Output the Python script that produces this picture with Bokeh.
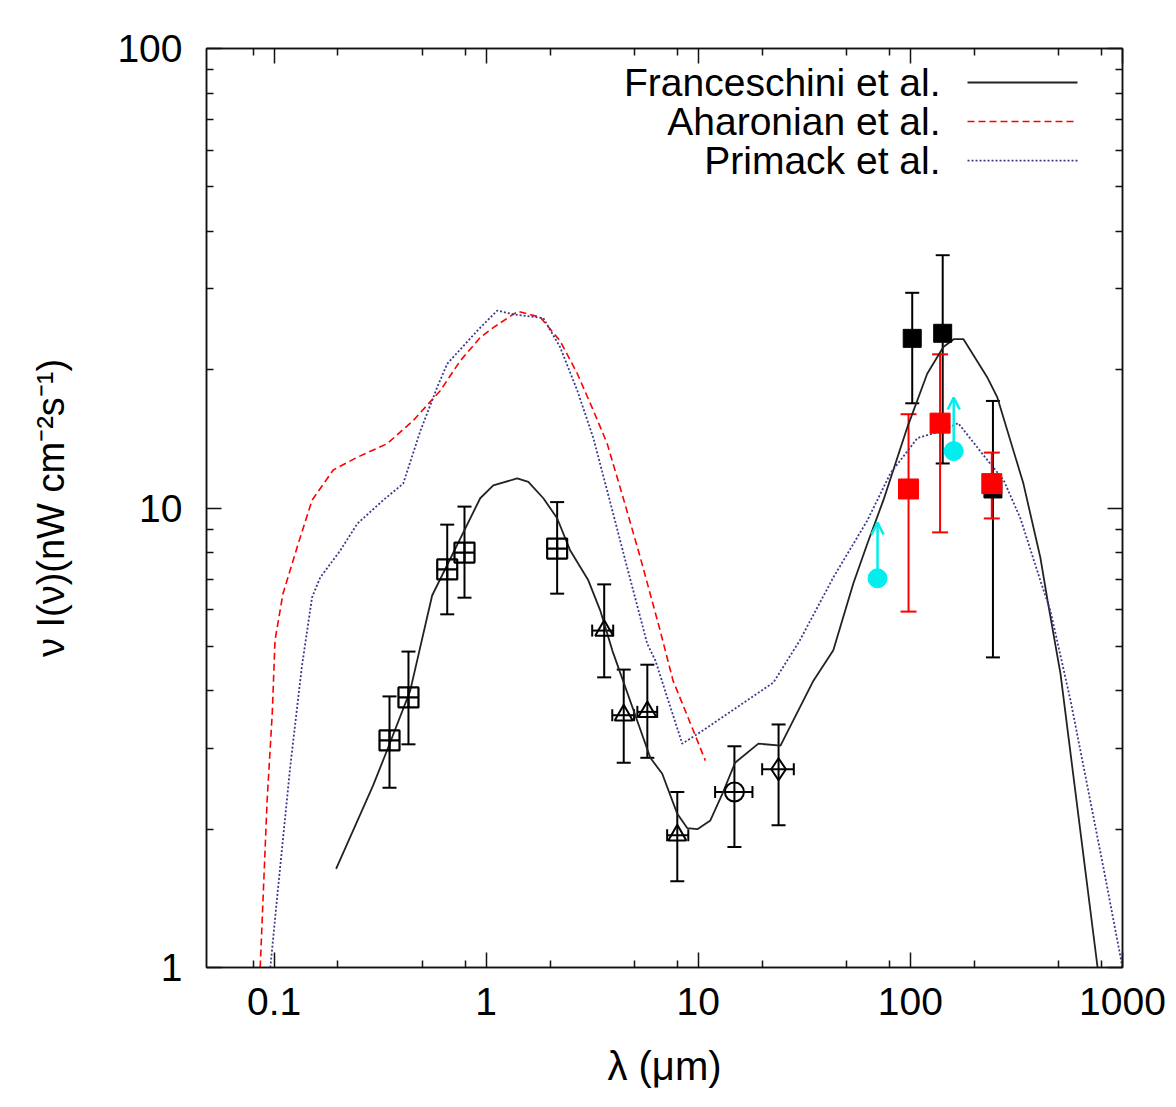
import math
from bokeh.plotting import figure
from bokeh.models import (Range1d, FixedTicker, LogAxis, CustomJSTickFormatter, Whisker,
                          TeeHead, ColumnDataSource, Arrow, OpenHead, Label)
from bokeh.embed import file_html
from bokeh.resources import INLINE

# ---------------- data ----------------
fran_lam = [0.196, 0.293, 0.341, 0.438, 0.556, 0.937, 1.08, 1.40, 1.58, 1.86, 2.16, 2.49, 3.03,
            3.45, 3.93, 5.94, 6.76, 7.96, 8.88, 9.9, 11.4, 13.0, 14.9, 19.2, 24.4, 34.9, 43.3,
            53.8, 62.7, 74.6, 96.8, 120, 143, 160, 178, 231, 257, 341, 410, 443, 510, 763]
fran_val = [1.64, 2.49, 2.97, 4.0, 6.45, 10.5, 11.2, 11.6, 11.4, 10.5, 9.5, 8.08, 6.96,
            5.98, 4.9, 2.86, 2.64, 2.16, 2.01, 2.0, 2.09, 2.39, 2.79, 3.07, 3.04, 4.21, 4.9,
            6.85, 8.37, 10.4, 15.0, 19.6, 22.4, 23.3, 23.3, 19.2, 17.4, 11.3, 7.8, 6.3, 4.36, 1.0]

ahar_lam = [0.086, 0.0927, 0.098, 0.101, 0.110, 0.130, 0.151, 0.19, 0.247, 0.341, 0.453, 0.607,
            0.754, 0.937, 1.08, 1.41, 1.8, 2.23, 2.69, 3.2, 3.72, 4.43, 5.33, 6.61, 7.6, 9.47, 10.8]
ahar_val = [1.0, 2.31, 3.57, 5.15, 6.5, 8.37, 10.4, 12.1, 12.9, 13.8, 15.5, 18.0,
            20.9, 23.5, 24.7, 26.8, 26.0, 23.1, 19.6, 16.3, 13.8, 10.5, 7.8, 5.41, 4.21, 3.28, 2.82]

prim_lam = [0.096, 0.103, 0.119, 0.135, 0.151, 0.165, 0.205, 0.247, 0.327, 0.406, 0.489, 0.587,
            0.655, 0.907, 1.127, 1.34, 1.86, 2.23, 2.69, 3.2, 3.72, 4.62, 5.74, 6.27, 8.4, 10.2,
            22.6, 30.1, 43.3, 62.7, 80.5, 108, 139, 168, 231, 275, 330, 410, 457, 569, 813, 1000]
prim_val = [1.0, 1.4, 2.72, 4.5, 6.39, 7.06, 8.08, 9.25, 10.4, 11.3, 14.7, 18.3,
            20.6, 24.3, 26.9, 26.4, 25.9, 22.4, 18.0, 14.2, 10.9, 7.42, 5.07, 4.66, 3.07, 3.25,
            4.17, 5.15, 7.06, 9.4, 11.9, 14.2, 14.7, 15.3, 12.7, 11.5, 9.5, 6.95, 5.98, 3.81, 1.65, 1.0]

osq_lam = [0.35, 0.43, 0.655, 0.79, 2.16]
osq_val = [3.12, 3.87, 7.35, 8.0, 8.16]
osq_hi = [3.89, 4.87, 9.2, 10.07, 10.3]
osq_lo = [2.46, 3.06, 5.87, 6.38, 6.51]

tri_lam = [3.6, 4.45, 5.75, 7.96]
tri_val = [5.41, 3.54, 3.6, 1.94]
tri_hi = [6.82, 4.45, 4.56, 2.41]
tri_lo = [4.28, 2.79, 2.86, 1.54]
tri_xlo = [3.16, 3.93, 5.16, 7.13]
tri_xhi = [3.97, 4.98, 6.4, 8.97]

circ_lam = [14.8]
circ_val = [2.41]
circ_hi = [3.03]
circ_lo = [1.83]
circ_xlo = [12.0]
circ_xhi = [18.0]

dia_lam = [23.9]
dia_val = [2.7]
dia_hi = [3.38]
dia_lo = [2.04]
dia_xlo = [20.0]
dia_xhi = [28.2]

bsq_lam = [102, 142, 245]
bsq_val = [23.4, 24.0, 11.0]
bsq_hi = [29.4, 35.5, 17.1]
bsq_lo = [16.9, 12.5, 4.73]

rsq_lam = [98, 138, 242]
rsq_val = [11.0, 15.3, 11.3]
rsq_hi = [16.0, 21.6, 13.2]
rsq_lo = [5.95, 8.85, 9.49]

cyan_lam = [70, 160]
cyan_val = [7.03, 13.3]
cyan_tip = [9.3, 17.4]

legend_names = ["Franceschini et al.", "Aharonian et al.", "Primack et al."]

x_ticks = [0.1, 1, 10, 100, 1000]
x_tick_labels = ["0.1", "1", "10", "100", "1000"]
x_minor = [0.08, 0.2, 0.5, 0.8, 2, 5, 8, 20, 50, 80, 200, 500, 800]
y_ticks = [1, 10, 100]
y_tick_labels = ["1", "10", "100"]
y_minor = [2, 3, 4, 5, 6, 7, 8, 9, 20, 30, 40, 50, 60, 70, 80, 90]

X0, X1 = 0.048, 1000
Y0, Y1 = 1, 100

# ---------------- style ----------------
FONT = "Liberation Sans"
FS = "39px"
RED = "#ff0000"
NAVY = "#3a3a8c"
CYAN = "#00eeee"
BLK = "#111111"
W, H = 1168, 1107

p = figure(width=W, height=H, x_axis_type="log", y_axis_type="log",
           x_range=Range1d(X0, X1), y_range=Range1d(Y0, Y1),
           output_backend="svg", toolbar_location=None,
           min_border_left=206, min_border_top=48, min_border_right=46, min_border_bottom=140)
p.grid.visible = False
p.outline_line_color = BLK
p.outline_line_width = 1.5
p.background_fill_color = "white"
p.border_fill_color = "white"

bx = p.below[0]
ly = p.left[0]


def fmt(tv, lv):
    return CustomJSTickFormatter(args=dict(tv=tv, lv=lv), code="""
        for (let i = 0; i < tv.length; i++) {
            if (Math.abs(Math.log10(tv[i]) - Math.log10(tick)) < 1e-6) return lv[i];
        }
        return '';
    """)


xt = FixedTicker(ticks=x_ticks, minor_ticks=x_minor)
yt = FixedTicker(ticks=y_ticks, minor_ticks=y_minor)

bx.ticker = xt
ly.ticker = yt
bx.formatter = fmt(x_ticks, x_tick_labels)
ly.formatter = fmt(y_ticks, y_tick_labels)

top = LogAxis(ticker=xt, formatter=CustomJSTickFormatter(code="return ''"))
right = LogAxis(ticker=yt, formatter=CustomJSTickFormatter(code="return ''"))
p.add_layout(top, "above")
p.add_layout(right, "right")

for ax in [bx, ly, top, right]:
    ax.axis_line_color = BLK
    ax.axis_line_width = 1.5
    ax.major_tick_line_color = BLK
    ax.minor_tick_line_color = BLK
    ax.major_tick_line_width = 1.5
    ax.minor_tick_line_width = 1.5
    ax.major_tick_in = 15
    ax.major_tick_out = 0
    ax.minor_tick_in = 7
    ax.minor_tick_out = 0
    ax.major_label_text_font = FONT
    ax.major_label_text_font_size = FS
    ax.major_label_text_color = "black"
    ax.major_label_text_font_style = "normal"

for ax in [top, right]:
    ax.major_label_text_font_size = "0px"
    ax.major_label_standoff = 0

bx.major_label_standoff = 20
ly.major_label_standoff = 24
bx.axis_label = "λ (μm)"
ly.axis_label = "ν I(ν)(nW cm⁻²s⁻¹)"
for ax in [bx, ly]:
    ax.axis_label_text_font = FONT
    ax.axis_label_text_font_style = "normal"
    ax.axis_label_text_color = "black"
bx.axis_label_text_font_size = "40px"
ly.axis_label_text_font_size = "38px"
bx.axis_label_standoff = 26
ly.axis_label_standoff = 42

# ---------------- curves ----------------
p.line(fran_lam, fran_val, line_color="#222222", line_width=1.8)
p.line(ahar_lam, ahar_val, line_color=RED, line_width=1.6, line_dash="7 4")
p.line(prim_lam, prim_val, line_color=NAVY, line_width=1.8, line_dash="2 2")


# ---------------- error bars ----------------
def vbars(lam, lo, hi, color, cap, width=2):
    src = ColumnDataSource(dict(x=lam, lo=lo, hi=hi))
    w = Whisker(source=src, base="x", lower="lo", upper="hi", dimension="height",
                line_color=color, line_width=width,
                upper_head=TeeHead(size=cap, line_color=color, line_width=width),
                lower_head=TeeHead(size=cap, line_color=color, line_width=width))
    p.add_layout(w)


def hbars(lam_lo, lam_hi, val, color, cap, width=2):
    src = ColumnDataSource(dict(y=val, lo=lam_lo, hi=lam_hi))
    w = Whisker(source=src, base="y", lower="lo", upper="hi", dimension="width",
                line_color=color, line_width=width,
                upper_head=TeeHead(size=cap, line_color=color, line_width=width),
                lower_head=TeeHead(size=cap, line_color=color, line_width=width))
    p.add_layout(w)


vbars(osq_lam, osq_lo, osq_hi, "black", 14)
vbars(tri_lam, tri_lo, tri_hi, "black", 14)
hbars(tri_xlo, tri_xhi, tri_val, "black", 12)
vbars(circ_lam, circ_lo, circ_hi, "black", 14)
hbars(circ_xlo, circ_xhi, circ_val, "black", 12)
vbars(dia_lam, dia_lo, dia_hi, "black", 14)
hbars(dia_xlo, dia_xhi, dia_val, "black", 12)
vbars(bsq_lam, bsq_lo, bsq_hi, "black", 14)
vbars(rsq_lam, rsq_lo, rsq_hi, RED, 16)

# ---------------- markers ----------------
p.scatter(osq_lam, osq_val, marker="square_cross", size=20, fill_color=None,
          line_color="black", line_width=2.2)
p.scatter(tri_lam, tri_val, marker="triangle", size=18, fill_color=None,
          line_color="black", line_width=2)
p.scatter(circ_lam, circ_val, marker="circle", size=19, fill_color=None,
          line_color="black", line_width=2)
p.scatter(dia_lam, dia_val, marker="diamond", size=22, fill_color=None,
          line_color="black", line_width=2)
p.scatter(bsq_lam, bsq_val, marker="square", size=18, fill_color="black", line_color="black")
p.scatter(rsq_lam, rsq_val, marker="square", size=20, fill_color=RED, line_color=RED)

arrow_src = ColumnDataSource(dict(x=cyan_lam, y=cyan_val, yt=cyan_tip))
p.add_layout(Arrow(source=arrow_src, x_start="x", y_start="y", x_end="x", y_end="yt",
                   line_color=CYAN, line_width=2.5,
                   end=OpenHead(size=12, line_color=CYAN, line_width=2.5)))
p.scatter(cyan_lam, cyan_val, marker="circle", size=19, fill_color=CYAN, line_color=CYAN)


# ---------------- legend (label left, sample right) ----------------
def fx(f):
    return 10 ** (math.log10(X0) + f * (math.log10(X1) - math.log10(X0)))


def fy(f):
    return 10 ** (math.log10(Y0) + f * (math.log10(Y1) - math.log10(Y0)))


rows = [0.963, 0.9206, 0.878]
styles = [dict(line_color="#222222", line_width=1.8),
          dict(line_color=RED, line_width=1.6, line_dash="7 4"),
          dict(line_color=NAVY, line_width=1.8, line_dash="2 2")]
for name, fr, st in zip(legend_names, rows, styles):
    p.add_layout(Label(x=fx(0.8013), y=fy(fr), text=name, text_align="right",
                       text_baseline="middle", text_font=FONT, text_font_size=FS,
                       text_color="black"))
    p.line([fx(0.8308), fx(0.9509)], [fy(fr), fy(fr)], **st)

open("out.html", "w").write(file_html(p, INLINE))
